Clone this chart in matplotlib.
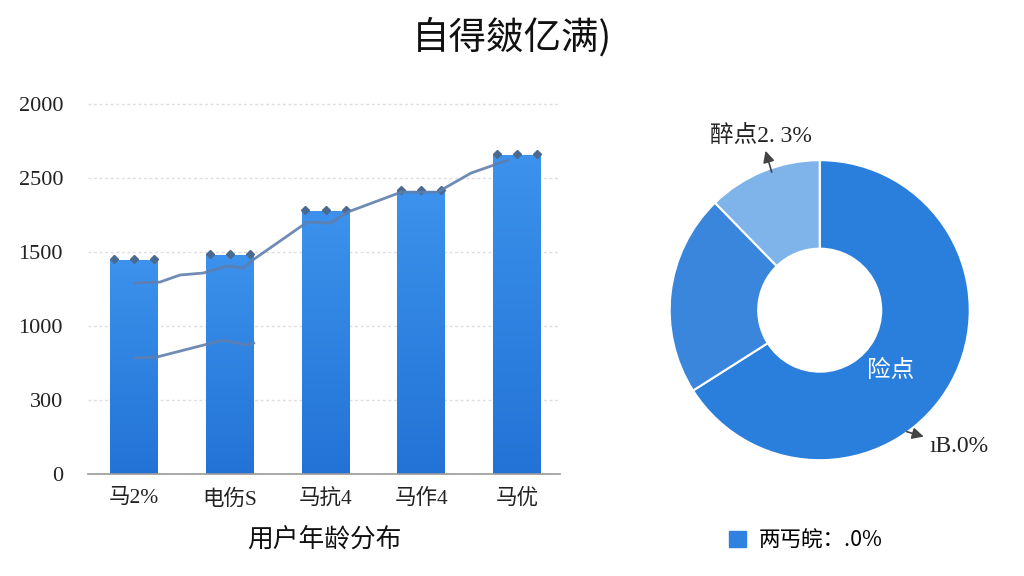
import matplotlib
matplotlib.use("Agg")
import matplotlib.pyplot as plt
import numpy as np
from matplotlib.colors import LinearSegmentedColormap

# ---- data ----
categories = ['马2%', '电伤S', '马抗4', '马作4', '马优']
bar_values = [1446, 1480, 1777, 1912, 2155]
ytick_values = [0, 500, 1000, 1500, 2000, 2500]
ytick_labels = ['0', '300', '1000', '1500', '2500', '2000']
line1_x = [0.01, 0.27, 0.48, 0.72, 0.97, 1.14, 1.24, 1.81, 2.05, 2.23, 2.79, 3.17, 3.52, 3.91]
line1_y = [1291, 1297, 1345, 1358, 1405, 1392, 1446, 1703, 1696, 1770, 1905, 1905, 2034, 2122]
line2_x = [0.01, 0.24, 0.93, 1.18, 1.25]
line2_y = [784, 791, 905, 872, 885]
pie_values = [66.0, 21.7, 12.3]
pie_colors = ['#2b7fdc', '#3a86dd', '#7fb4ea']
title = '自得皴亿满)'
xlabel = '用户年龄分布'
pie_label_top = '醉点2. 3%'
pie_label_inner = '险点'
pie_label_right = 'ıB.0%'
legend_label = '两丐皖：.0%'

CJK = 'Noto Sans CJK SC'
SERIF = ['Liberation Serif', CJK]
plt.rcParams['font.family'] = [CJK, 'DejaVu Sans']

fig = plt.figure(figsize=(10.24, 5.76), dpi=100)
fig.patch.set_facecolor('white')

# ---- bar chart ----
ax = fig.add_axes([0.086, 0.177, 0.461, 0.658])
x = np.arange(len(categories))
bars = ax.bar(x, bar_values, width=0.5, color='#2f82e0', zorder=2)
cmap = LinearSegmentedColormap.from_list('g', ['#2373d6', '#3c92ec'])
grad = np.linspace(0, 1, 256).reshape(-1, 1)
for b in bars:
    x0, y0 = b.get_x(), b.get_y()
    w, h = b.get_width(), b.get_height()
    im = ax.imshow(grad, cmap=cmap, origin='lower', aspect='auto',
                   extent=[x0, x0 + w, y0, y0 + h], zorder=2.1)
    im.set_clip_path(b)
    ax.plot([x0 + 0.04, x0 + w / 2, x0 + w - 0.04], [y0 + h + 8] * 3, linestyle='none',
            marker='D', markersize=4, color='#4a6a90', zorder=3, clip_on=False)

ax.plot(line1_x, line1_y, color='#5f7fae', lw=2, zorder=4, alpha=0.9)
ax.plot(line2_x, line2_y, color='#5f7fae', lw=2, zorder=4, alpha=0.9)

ax.set_xlim(-0.48, 4.45)
ax.set_ylim(0, 2561)
ax.set_yticks(ytick_values)
ax.set_yticklabels(ytick_labels, family=SERIF, fontsize=16, color='#222222')
ax.set_xticks(x)
ax.set_xticklabels(categories, family=SERIF, fontsize=15.5, color='#222222')
ax.tick_params(length=0)
ax.tick_params(axis='x', pad=11)
ax.tick_params(axis='y', pad=18)
for s in ['top', 'right', 'left']:
    ax.spines[s].set_visible(False)
ax.spines['bottom'].set_color('#999999')
ax.spines['bottom'].set_linewidth(1.2)
for v in ytick_values[1:]:
    ax.axhline(v, color='#dddddd', lw=1, ls=(0, (2, 2)), zorder=1)
ax.set_xlabel(xlabel, fontsize=18.5, color='#111111', labelpad=12)

fig.text(0.5, 0.935, title, ha='center', va='center', fontsize=27, color='#111111')

# ---- donut ----
pax = fig.add_axes([0.654, 0.201, 0.293, 0.521])
wedges, _ = pax.pie(pie_values, colors=pie_colors, startangle=90, counterclock=False,
                    radius=1, wedgeprops=dict(width=0.59, edgecolor='white', linewidth=1.5))
pax.set_xlim(-1, 1)
pax.set_ylim(-1, 1)
pax.set_aspect('equal')
pax.axis('off')

pax.annotate(pie_label_top, xy=(-0.32, 0.92), xytext=(-0.39, 1.09),
             ha='center', va='bottom', fontsize=17, family=SERIF, color='#222222',
             arrowprops=dict(arrowstyle='<|-', color='#444444', lw=1.2,
                             shrinkA=1, shrinkB=0), annotation_clip=False)
pax.text(0.47, -0.40, pie_label_inner, ha='center', va='center', fontsize=17, color='white')
pax.annotate(pie_label_right, xy=(0.58, -0.81), xytext=(0.73, -0.91),
             ha='left', va='center', fontsize=17, family=SERIF, color='#222222',
             arrowprops=dict(arrowstyle='<|-', color='#444444', lw=1.2,
                             shrinkA=2, shrinkB=0), annotation_clip=False)

# legend
handle = plt.Rectangle((0, 0), 1, 1, color='#2f82e0')
fig.legend([handle], [legend_label], loc='center', bbox_to_anchor=(0.787, 0.062),
           frameon=False, fontsize=15.5, handlelength=0.75, handleheight=0.75, handletextpad=0.6)

fig.savefig('out.png', dpi=100, facecolor='white')
